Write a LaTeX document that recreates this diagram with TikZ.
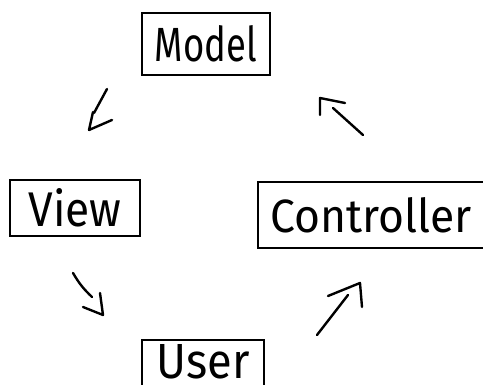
\documentclass[tikz,border=0pt]{standalone}
\usepackage{fontspec}
\setmainfont{Fira Sans}
\usepackage{graphicx}
% hand-lettered label squeezed to a given width and height
\newcommand{\handlabel}[3]{\resizebox{#1}{#2}{#3}}
\begin{document}
\begin{tikzpicture}[x=1pt,y=1pt,
  part/.style={draw=black,line width=1.9pt,inner sep=0pt,anchor=center},
  openpart/.style={part,draw=none},
  frame/.style={draw=black,line width=1.9pt},
  stroke/.style={line width=2.4pt,line cap=round,line join=round}]
\useasboundingbox (0,0) rectangle (483,385);
\fill[white] (0,0) rectangle (483,385);
\clip (0,0) rectangle (483,385);

% the four parts of the cycle
\node[part,minimum width=128pt,minimum height=62pt] (model) at (206,341)
  {\handlabel{102pt}{36pt}{Model}};
\node[part,minimum width=130pt,minimum height=56pt] (view) at (75,177)
  {\handlabel{93pt}{38pt}{View}};
\node[openpart,minimum width=224pt,minimum height=64pt] (ctrl) at (371,170)
  {\handlabel{201pt}{35pt}{Controller}};
\node[openpart,minimum width=120pt,minimum height=42pt] (user) at (203,23)
  {\handlabel{93pt}{34pt}{User}};

% frames running off the page edge
\draw[frame] (ctrl.north east) -- (ctrl.north west) -- (ctrl.south west) -- (ctrl.south east);
\draw[frame] (user.south west) ++(0,-8) -- (user.north west) -- (user.north east) -- ++(0,-52);

% Model -> View
\coordinate (mvA) at (107,296);
\coordinate (mvB) at (94,272);
\coordinate (mvL) at (93,273);
\coordinate (mvT) at (89,255);
\coordinate (mvR) at (112,265);
\draw[stroke] (mvA) -- (mvB);
\draw[stroke] (mvL) -- (mvT) -- (mvR);

% View -> User
\coordinate (vuA) at (73,112);
\coordinate (vuB) at (92,88);
\coordinate (vuL) at (100,92);
\coordinate (vuT) at (103,70);
\coordinate (vuR) at (83,78);
\draw[stroke] (vuA) to[bend right=8] (vuB);
\draw[stroke] (vuL) -- (vuT) -- (vuR);

% User -> Controller
\coordinate (ucA) at (317,50);
\coordinate (ucB) at (348,90);
\coordinate (ucL) at (328,89);
\coordinate (ucT) at (360,102);
\coordinate (ucR) at (362,78);
\draw[stroke] (ucA) -- (ucB);
\draw[stroke] (ucL) -- (ucT) -- (ucR);

% Controller -> Model
\coordinate (cmA) at (363,250);
\coordinate (cmB) at (333,277);
\coordinate (cmL) at (320,270);
\coordinate (cmT) at (320,287);
\coordinate (cmR) at (345,282);
\draw[stroke] (cmA) -- (cmB);
\draw[stroke] (cmL) -- (cmT) -- (cmR);
\end{tikzpicture}
\end{document}
